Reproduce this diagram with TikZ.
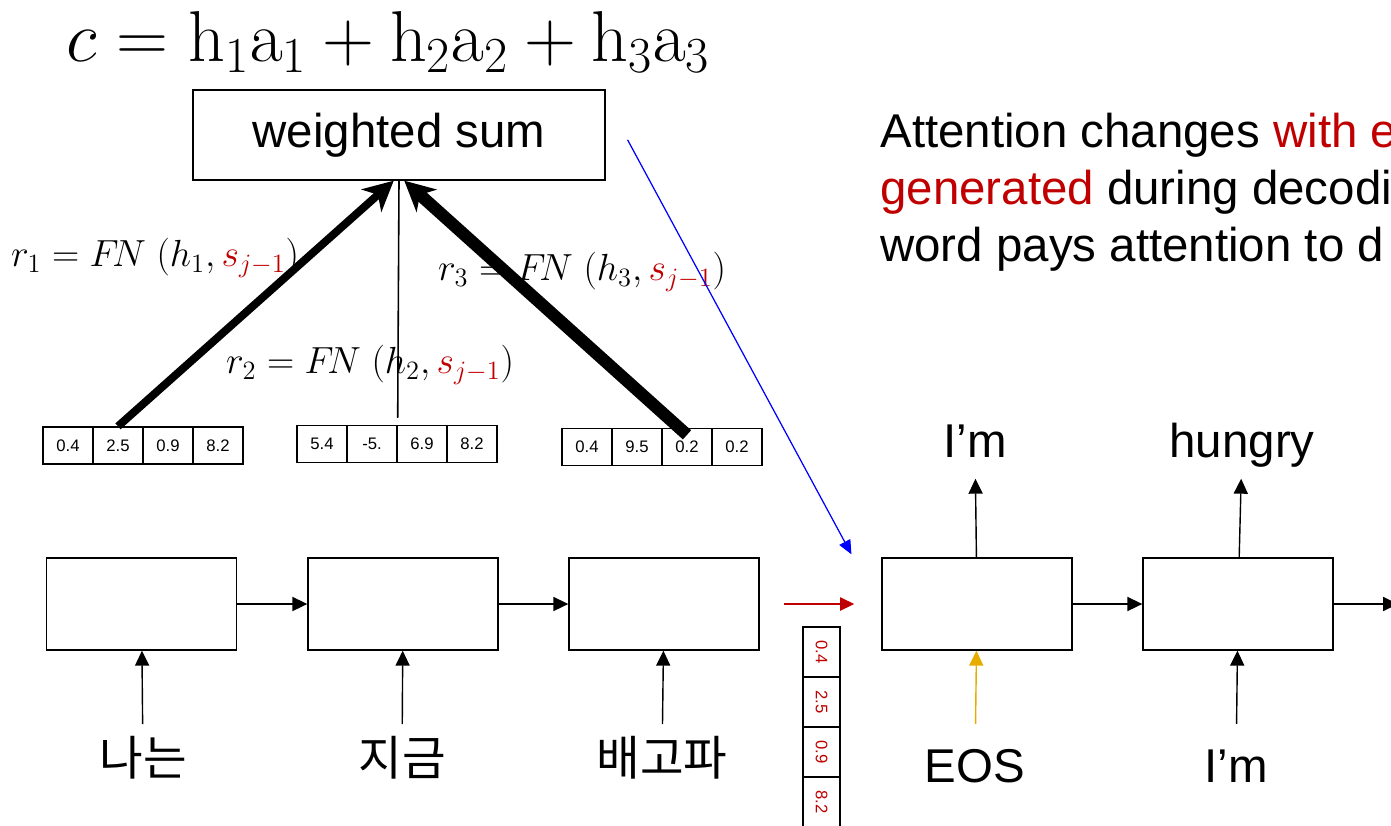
\RequirePackage{fix-cm}
\documentclass[tikz,border=0pt]{standalone}
\usepackage[no-math]{fontspec}
\setmainfont{Liberation Sans}
\newfontfamily\krfont{Noto Sans CJK KR}
\usepackage{xcolor}
\usetikzlibrary{arrows.meta}
\definecolor{attred}{RGB}{192,0,0}
\definecolor{eosorange}{RGB}{230,172,0}
\tikzset{
  cell/.style={rectangle, draw=black, line width=0.8pt, minimum width=1cm,
               minimum height=0.74cm, inner sep=0pt, font=\fontsize{9.5}{11}\selectfont},
  rnnbox/.style={rectangle, draw=black, line width=0.8pt,
                 minimum width=3.8cm, minimum height=1.84cm},
  word/.style={inner sep=0pt, text height=20pt, text depth=6pt,
               font=\fontsize{27}{32}\selectfont},
  krword/.style={word, font=\fontsize{27}{32}\selectfont\krfont},
  arrow/.style={-{Triangle[length=8.5pt, width=8pt]}, draw=black, line width=0.8pt},
  bigarrow/.style={-{Stealth[length=17pt, width=17pt, inset=5pt]}, draw=black},
  flabel/.style={font=\fontsize{21.5}{24}\selectfont},
}

\begin{document}
\begin{tikzpicture}[x=0.02cm, y=-0.02cm]
  \useasboundingbox (0,0) rectangle (1391,825);

  % context vector
  \node (eq) at (388,42) {\fontsize{41}{44}\selectfont
    $c = \mathrm{h}_1\mathrm{a}_1 + \mathrm{h}_2\mathrm{a}_2 + \mathrm{h}_3\mathrm{a}_3$};
  \node[rectangle, draw=black, line width=0.8pt, minimum width=8.24cm, minimum height=1.8cm,
        font=\fontsize{27}{32}\selectfont] (wsum) at (399,135) {weighted sum};

  % attention scores
  \foreach \i/\x/\t in {1/68/0.4, 2/118/2.5, 3/168/0.9, 4/218/8.2}
    \node[cell] (va\i) at (\x,445.5) {\t};
  \foreach \i/\x/\t in {1/322/5.4, 2/372/-5., 3/422/6.9, 4/472/8.2}
    \node[cell] (vb\i) at (\x,444) {\t};
  \foreach \i/\x/\t in {1/587/0.4, 2/637/9.5, 3/687/0.2, 4/737/0.2}
    \node[cell] (vc\i) at (\x,447) {\t};

  \draw[bigarrow, line width=4.5pt] (va2.north) -- ([xshift=-3pt]wsum.south);
  \draw[black, line width=0.9pt] ([yshift=4pt]vb2.north east) -- (wsum.south);
  \draw[bigarrow, line width=7pt] ([yshift=-4pt]vc3.north) -- ([xshift=3pt]wsum.south);

  \node[flabel] (rA) at (155,258) {$r_1 = F\!N\ (h_1, \textcolor{attred}{s_{j-1}})$};
  \node[flabel] (rB) at (370,365) {$r_2 = F\!N\ (h_2, \textcolor{attred}{s_{j-1}})$};
  \node[flabel] (rC) at (582,272) {$r_3 = F\!N\ (h_3, \textcolor{attred}{s_{j-1}})$};

  % encoder
  \node[rnnbox] (encA) at (141.5,604) {};
  \node[rnnbox] (encB) at (403,604) {};
  \node[rnnbox] (encC) at (664,604) {};
  \draw[arrow] (encA) -- (encB);
  \draw[arrow] (encB) -- (encC);

  \node[krword] (inA) at (143,763) {나는};
  \node[krword] (inB) at (402,763) {지금};
  \node[krword] (inC) at (662,763) {배고파};
  \draw[arrow, shorten <=9pt] (inA) -- (encA);
  \draw[arrow, shorten <=9pt] (inB) -- (encB);
  \draw[arrow, shorten <=9pt] (inC) -- (encC);

  % decoder
  \node[rnnbox] (decA) at (977,604) {};
  \node[rnnbox] (decB) at (1238,604) {};
  \coordinate (offedge) at (1398,604);
  \draw[arrow] (decA) -- (decB);
  \draw[arrow] (decB) -- (offedge);

  % context handed to the decoder
  \draw[-{Triangle[length=8pt, width=7.5pt]}, draw=attred, fill=attred, line width=0.8pt]
    ([xshift=13.7pt]encC.east) -- ([xshift=-15.4pt]decA.west);
  \foreach \i/\y/\t in {1/652/0.4, 2/702/2.5, 3/752/0.9, 4/802/8.2}
    \node[cell, rotate=-90, text=attred] (vd\i) at (821.5,\y) {\t};

  \node[word] (outA) at (975,445) {I’m};
  \node[word] (outB) at (1242,445) {hungry};
  \draw[arrow, shorten >=6pt] (decA) -- (outA);
  \draw[arrow, shorten >=6pt] (decB) -- (outB);

  \node[word] (eos) at (975,770) {EOS};
  \node[word] (prevB) at (1236,770) {I’m};
  \draw[arrow, draw=eosorange, fill=eosorange, shorten <=13pt] (eos) -- (decA);
  \draw[arrow, shorten <=13pt] (prevB) -- (decB);

  \draw[-{Triangle[length=8pt, width=7pt]}, draw=blue, fill=blue, line width=0.7pt]
    ([xshift=12.5pt, yshift=-2.8pt]wsum.east) -- ([xshift=-17pt, yshift=1.7pt]decA.north west);

  \node[anchor=north west, inner sep=0pt, align=left, font=\fontsize{27}{32.4}\selectfont]
    (note) at (880,113)
    {Attention changes \textcolor{attred}{with e}\\
     \textcolor{attred}{generated} during decodi\\
     word pays attention to d};
\end{tikzpicture}
\end{document}
